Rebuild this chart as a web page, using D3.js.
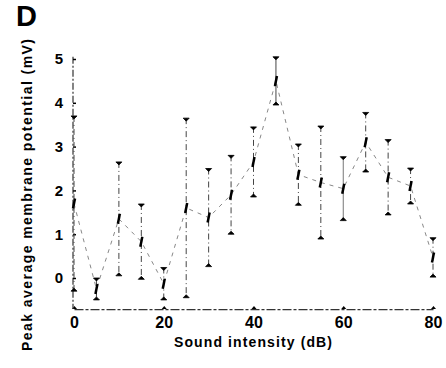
<!DOCTYPE html>
<html>
<head>
<script src="https://cdnjs.cloudflare.com/ajax/libs/d3/7.8.5/d3.min.js"></script>
<style>
  body { margin: 0; background: #fff; }
  svg { display: block; font-family: 'Liberation Sans', Arial, sans-serif; }
</style>
</head>
<body>
<script>
// sound intensity (dB), mean peak potential (mV) and error
var intensity = [0, 5, 10, 15, 20, 25, 30, 35, 40, 45, 50, 55, 60, 65, 70, 75, 80];
var meanMv = [1.7, -0.25, 1.35, 0.83, -0.13, 1.6, 1.38, 1.9, 2.65, 4.5, 2.36, 2.18, 2.04, 3.1, 2.3, 2.1, 0.47];
var errMv = [2.0, 0.25, 1.3, 0.86, 0.37, 2.05, 1.12, 0.9, 0.8, 0.55, 0.7, 1.29, 0.73, 0.68, 0.86, 0.41, 0.45];
var xTicks = [0, 20, 40, 60, 80];
var yTicks = [0, 1, 2, 3, 4, 5];

var width = 446, height = 368;
var svg = d3.select("body").append("svg")
  .attr("width", width)
  .attr("height", height);

var x = d3.scaleLinear().domain([0, 80]).range([74, 433]);
var y = d3.scaleLinear().domain([0, 5]).range([278, 59]);
var yBottom = y(-0.71), yTop = y(5.05);

// axes
var xAxis = svg.append("g")
  .attr("transform", "translate(0," + yBottom + ")")
  .call(d3.axisBottom(x).tickValues(xTicks).tickFormat(d3.format("d")).tickSize(0).tickPadding(8));
xAxis.select(".domain").attr("stroke", "#333").attr("stroke-width", 1.2)
  .attr("stroke-dasharray", "9,2,3,2");
xAxis.selectAll("text").attr("font-size", 16).attr("font-weight", "bold").attr("fill", "#000");
xAxis.selectAll(".tick").append("path")
  .attr("d", "M-2.5,0L2.5,0L0,-3Z").attr("fill", "#000");

var yAxis = svg.append("g")
  .attr("transform", "translate(73,0)")
  .call(d3.axisLeft(y).tickValues(yTicks).tickFormat(d3.format("d")).tickSize(0).tickPadding(10));
yAxis.select(".domain").attr("d", "M0," + yTop + "V" + yBottom)
  .attr("stroke", "#333").attr("stroke-width", 1.2).attr("stroke-dasharray", "7,2,2,2");
yAxis.selectAll("text").attr("font-size", 15).attr("font-weight", "bold").attr("fill", "#000");
yAxis.selectAll(".tick").append("line")
  .attr("x1", 0).attr("x2", 3).attr("stroke", "#000").attr("stroke-width", 1.5);

// connecting line
var line = d3.line().x(function (d, i) { return x(intensity[i]); }).y(function (d) { return y(d); });
svg.append("path")
  .datum(meanMv)
  .attr("d", line)
  .attr("fill", "none")
  .attr("stroke", "#888")
  .attr("stroke-width", 1)
  .attr("stroke-dasharray", "4,5");

// error bars
var bars = svg.append("g").selectAll("g")
  .data(meanMv)
  .enter().append("g");

bars.append("line")
  .attr("x1", function (d, i) { return x(intensity[i]); })
  .attr("x2", function (d, i) { return x(intensity[i]); })
  .attr("y1", function (d, i) { return y(d + errMv[i]); })
  .attr("y2", function (d, i) { return y(d - errMv[i]); })
  .attr("stroke", function (d, i) { return i === 12 ? "#777" : "#444"; })
  .attr("stroke-width", 1)
  .attr("stroke-dasharray", function (d, i) { return i === 12 || i === 9 ? null : "6,3,1,3"; });

bars.append("path")
  .attr("d", function (d, i) {
    var cx = x(intensity[i]), cy = y(d + errMv[i]);
    return "M" + (cx - 3) + "," + cy + "L" + (cx + 3) + "," + cy + "L" + cx + "," + (cy + 3) + "Z";
  })
  .attr("fill", "#000").attr("stroke", "#000").attr("stroke-width", 0.8);

bars.append("path")
  .attr("d", function (d, i) {
    var cx = x(intensity[i]), cy = y(d - errMv[i]);
    return "M" + (cx - 3) + "," + cy + "L" + (cx + 3) + "," + cy + "L" + cx + "," + (cy - 3) + "Z";
  })
  .attr("fill", "#000").attr("stroke", "#000").attr("stroke-width", 0.8);

// mean marks
bars.append("line")
  .attr("x1", function (d, i) { return x(intensity[i]) - 1; })
  .attr("x2", function (d, i) { return x(intensity[i]) + 1; })
  .attr("y1", function (d) { return y(d) + 5; })
  .attr("y2", function (d) { return y(d) - 5; })
  .attr("stroke", "#000")
  .attr("stroke-width", 2.5);

// labels
svg.append("text")
  .attr("x", 253).attr("y", 347)
  .attr("text-anchor", "middle")
  .attr("font-size", 14).attr("font-weight", "bold")
  .attr("textLength", 158)
  .text("Sound intensity (dB)");

svg.append("text")
  .attr("transform", "translate(32,195) rotate(-90)")
  .attr("text-anchor", "middle")
  .attr("font-size", 14).attr("font-weight", "bold")
  .attr("textLength", 312)
  .text("Peak average membrane potential (mV)");

svg.append("text")
  .attr("x", 16).attr("y", 26)
  .attr("font-size", 29).attr("font-weight", "bold")
  .text("D");
</script>
</body>
</html>
